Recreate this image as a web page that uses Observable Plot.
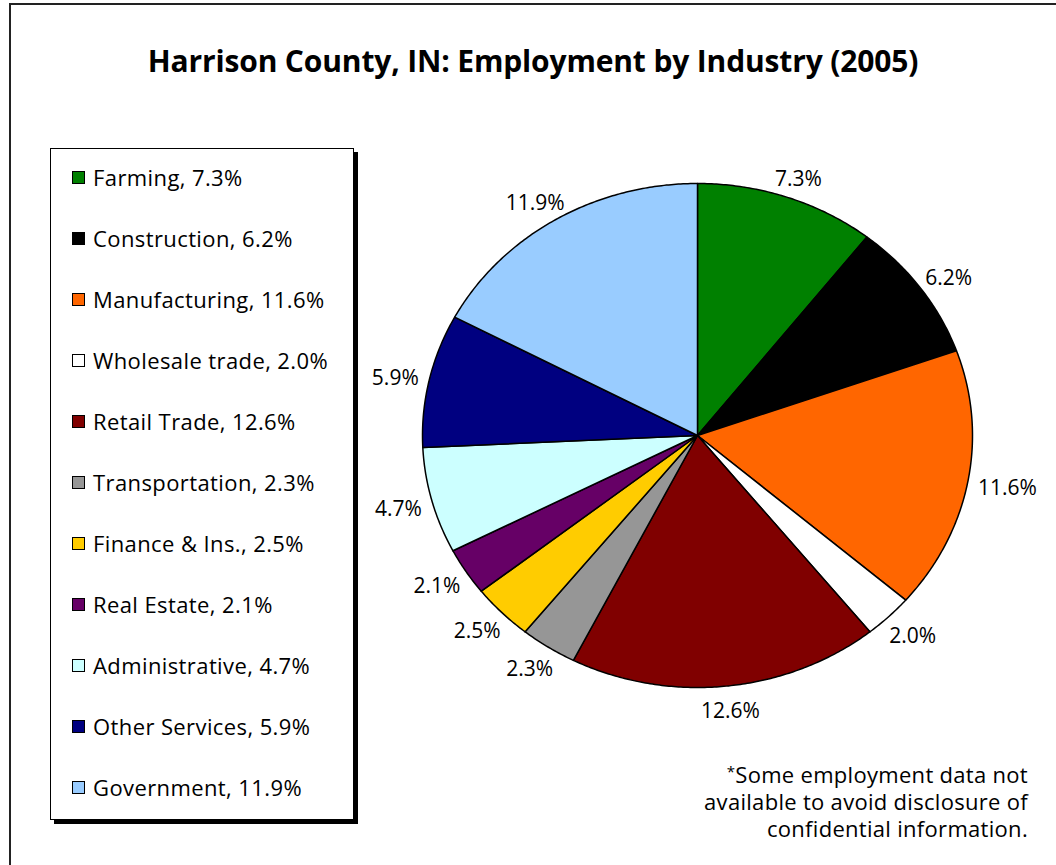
<!DOCTYPE html>
<html>
<head>
<meta charset="utf-8">
<script src="https://cdn.jsdelivr.net/npm/d3@7"></script>
<script src="https://cdn.jsdelivr.net/npm/@observablehq/plot@0.6"></script>
<style>
  html, body { margin: 0; padding: 0; background: #fff; overflow: hidden; }
  #page { position: relative; width: 1056px; height: 865px; overflow: hidden; font-family: "Open Sans", sans-serif; color: #000; }
  #frame { position: absolute; left: 9px; top: 3px; width: 1200px; height: 1000px; border-left: 2px solid #222; border-top: 2px solid #222; }
  #chart { position: absolute; left: 0; top: 0; }
  #title { position: absolute; left: 0; width: 1066px; top: 40px; text-align: center; font-weight: 700; font-size: 30px; letter-spacing: -0.15px; }
  #legend { position: absolute; left: 50px; top: 148px; width: 304px; height: 672px; border: 1.5px solid #000; background: #fff; box-shadow: 4px 4px 0 #000; box-sizing: border-box; }
  .item { position: absolute; left: 21px; height: 30px; display: flex; align-items: center; font-size: 22px; letter-spacing: 0.4px; white-space: nowrap; }
  .sw { width: 11px; height: 11px; border: 1px solid #000; margin-right: 8px; flex: none; }
  #note { position: absolute; right: 28px; top: 758px; text-align: right; font-size: 22px; line-height: 27px; letter-spacing: 0.3px; }
  #note sup { font-size: 15px; vertical-align: 6px; }
</style>
</head>
<body>
<div id="page">
  <div id="frame"></div>
  <div id="chart"></div>
  <div id="title"></div>
  <div id="legend"></div>
  <div id="note"><sup>*</sup>Some employment data not<br>available to avoid disclosure of<br>confidential information.</div>
</div>
<script>
const titleText = "Harrison County, IN: Employment by Industry (2005)";
const industries = ["Farming", "Construction", "Manufacturing", "Wholesale trade", "Retail Trade", "Transportation", "Finance & Ins.", "Real Estate", "Administrative", "Other Services", "Government"];
const shares = [7.3, 6.2, 11.6, 2.0, 12.6, 2.3, 2.5, 2.1, 4.7, 5.9, 11.9];
const colors = ["#008000", "#000000", "#FF6600", "#FFFFFF", "#800000", "#969696", "#FFCC00", "#660066", "#CCFFFF", "#000080", "#99CCFF"];

document.getElementById("title").textContent = titleText;

// Legend
const legend = document.getElementById("legend");
industries.forEach((name, i) => {
  const row = document.createElement("div");
  row.className = "item";
  row.style.top = (13 + i * 61) + "px";
  const sw = document.createElement("span");
  sw.className = "sw";
  sw.style.background = colors[i];
  const tx = document.createElement("span");
  tx.textContent = `${name}, ${shares[i].toFixed(1)}%`;
  row.appendChild(sw);
  row.appendChild(tx);
  legend.appendChild(row);
});

// Pie geometry (angles clockwise from 12 o'clock)
const total = d3.sum(shares);
const slices = [];
let acc = 0;
industries.forEach((name, i) => {
  const a0 = acc / total * 2 * Math.PI;
  acc += shares[i];
  const a1 = acc / total * 2 * Math.PI;
  slices.push({name, share: shares[i], a0, a1, mid: (a0 + a1) / 2});
});

const pts = [];
for (const s of slices) {
  pts.push({name: s.name, x: 0, y: 0});
  const n = Math.max(2, Math.ceil((s.a1 - s.a0) / (Math.PI / 360)));
  for (let k = 0; k <= n; k++) {
    const a = s.a0 + (s.a1 - s.a0) * k / n;
    pts.push({name: s.name, x: Math.sin(a), y: Math.cos(a)});
  }
}

const rx = 275, ry = 252, fontSize = 21;
const labels = slices.map(s => {
  const txt = s.share.toFixed(1) + "%";
  const w = txt.length * 0.6 * fontSize * 0.9;
  const h = fontSize;
  const gap = 12;
  return {
    text: txt,
    x: Math.sin(s.mid) * (1 + (gap + w / 2) / rx),
    y: Math.cos(s.mid) * (1 + (gap + h / 2) / ry)
  };
});

const chart = Plot.plot({
  width: 1056,
  height: 865,
  margin: 0,
  style: {background: "transparent", fontFamily: "'Open Sans', sans-serif"},
  x: {domain: [-1, 1], range: [422, 972], axis: null},
  y: {domain: [-1, 1], range: [687, 183], axis: null},
  color: {domain: industries, range: colors},
  marks: [
    Plot.line(pts, {x: "x", y: "y", z: "name", fill: "name", stroke: "#000", strokeWidth: 1.5, strokeLinejoin: "round", curve: "linear-closed"}),
    Plot.text(labels, {x: "x", y: "y", text: "text", fontSize: fontSize, fill: "#000", textAnchor: "middle", lineAnchor: "middle", dy: 3})
  ]
});
document.getElementById("chart").appendChild(chart);
</script>
</body>
</html>
